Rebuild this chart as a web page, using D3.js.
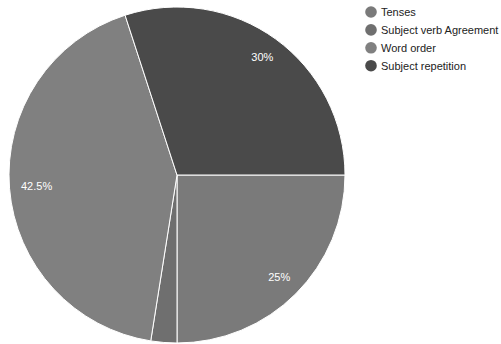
<!DOCTYPE html>
<html>
<head>
<meta charset="utf-8">
<script src="https://cdn.jsdelivr.net/npm/d3@7"></script>
<style>
  html, body { margin: 0; padding: 0; background: #ffffff; }
  svg { display: block; font-family: "Liberation Sans", Arial, sans-serif; }
</style>
</head>
<body>
<svg id="chart" width="501" height="344"></svg>
<script>
// Error categories and their share of the total (percent)
const categories = ["Tenses", "Subject verb Agreement", "Word order", "Subject repetition"];
const shares = [25, 2.5, 42.5, 30];
const sliceColors = ["#7a7a7a", "#6f6f6f", "#808080", "#4a4a4a"];

const svg = d3.select("#chart");
const cx = 177, cy = 175, radius = 168;

// Slices run clockwise, the first one starting at 3 o'clock
const pie = d3.pie()
  .value(d => d.value)
  .sort(null)
  .startAngle(Math.PI / 2)
  .endAngle(Math.PI / 2 + 2 * Math.PI);

const data = categories.map((c, i) => ({ name: c, value: shares[i], color: sliceColors[i] }));
const arcs = pie(data);
const total = d3.sum(shares);

const arc = d3.arc().innerRadius(0).outerRadius(radius);

const g = svg.append("g").attr("transform", `translate(${cx},${cy})`);

g.selectAll("path.slice")
  .data(arcs)
  .join("path")
  .attr("class", "slice")
  .attr("d", arc)
  .attr("fill", d => d.data.color)
  .attr("stroke", "#ffffff")
  .attr("stroke-width", 1);

// Percentage labels: pushed out along each bisector until the text box
// reaches a fixed inset from the rim. Tiny slices get no label.
const fmt = v => (Math.round(v * 10) / 10) + "%";
const inset = 11;
const labels = g.selectAll("text.pct")
  .data(arcs.filter(d => d.data.value / total >= 0.05))
  .join("text")
  .attr("class", "pct")
  .attr("fill", "#ffffff")
  .attr("font-size", 11)
  .attr("text-anchor", "middle")
  .attr("dy", "0.35em")
  .text(d => fmt(d.data.value / total * 100));

labels.each(function(d) {
  const w = this.getComputedTextLength();
  const h = 13;
  const mid = (d.startAngle + d.endAngle) / 2;
  const ux = Math.sin(mid), uy = -Math.cos(mid);
  let lo = 0, hi = radius;
  for (let k = 0; k < 40; k++) {
    const t = (lo + hi) / 2;
    const x = ux * t, y = uy * t;
    let far = 0;
    for (const sx of [-1, 1]) for (const sy of [-1, 1]) {
      const px = x + sx * w / 2, py = y + sy * h / 2;
      far = Math.max(far, Math.hypot(px, py));
    }
    if (far > radius - inset) hi = t; else lo = t;
  }
  d3.select(this).attr("x", ux * lo).attr("y", uy * lo);
});

// Legend on the right
const legend = svg.append("g").attr("transform", "translate(371,12)");
const rows = legend.selectAll("g.row")
  .data(data)
  .join("g")
  .attr("class", "row")
  .attr("transform", (d, i) => `translate(0,${i * 17.9})`);

rows.append("circle")
  .attr("r", 5.8)
  .attr("fill", d => d.color);

rows.append("text")
  .attr("x", 10)
  .attr("dy", "0.35em")
  .attr("font-size", 11)
  .attr("fill", "#222222")
  .text(d => d.name);
</script>
</body>
</html>
